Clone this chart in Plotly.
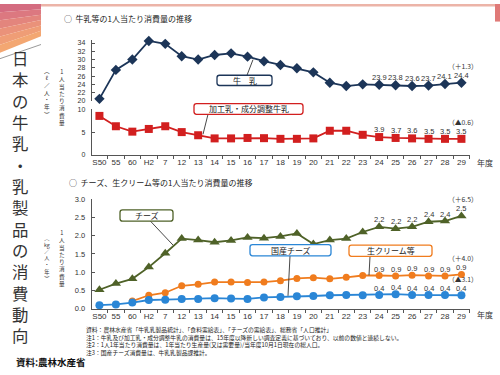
import plotly.graph_objects as go

W, H = 500, 375
def px(x): return x / W
def py(y): return 1 - y / H

# ---------------- data ----------------
categories = ["S50", "55", "60", "H2", "7", "12", "13", "14", "15", "16", "17", "18",
              "19", "20", "21", "22", "23", "24", "25", "26", "27", "28", "29"]
milk = [20.5, 27.5, 30.0, 34.5, 33.8, 30.8, 30.0, 31.1, 31.5, 30.7, 29.6, 28.7,
        27.9, 26.9, 24.4, 23.6, 24.0, 23.9, 23.8, 23.6, 23.7, 24.1, 24.4]
processed = [8.6, 6.3, 5.1, 5.7, 6.3, 5.0, 4.3, 3.6, 3.6, 3.7, 3.65, 3.5,
             3.5, 3.6, 5.3, 5.3, 4.4, 3.9, 3.7, 3.6, 3.5, 3.5, 3.5]
cheese = [0.52, 0.69, 0.82, 1.14, 1.52, 1.92, 1.88, 1.82, 1.87, 1.95, 1.93, 1.98,
          2.06, 1.77, 1.88, 1.92, 2.10, 2.24, 2.19, 2.24, 2.38, 2.40, 2.54]
cream = [None, None, 0.21, 0.37, 0.44, 0.63, 0.67, 0.73, 0.73, 0.72, 0.73, 0.77,
         0.83, 0.85, 0.82, 0.86, 0.91, 0.91, 0.90, 0.92, 0.90, 0.90, 0.94]
domestic = [0.10, 0.12, 0.17, 0.24, 0.25, 0.27, 0.27, 0.29, 0.28, 0.27, 0.31, 0.32,
            0.34, 0.35, 0.37, 0.38, 0.37, 0.38, 0.40, 0.38, 0.38, 0.38, 0.37]

milk_labels = ["23.9", "23.8", "23.6", "23.7", "24.1", "24.4"]
processed_labels = ["3.9", "3.7", "3.6", "3.5", "3.5", "3.5"]
cheese_labels = ["2.2", "2.2", "2.2", "2.4", "2.4", "2.5"]
cream_labels = ["0.9", "0.9", "0.9", "0.9", "0.9", "0.9"]
domestic_labels = ["0.4", "0.4", "0.4", "0.4", "0.4", "0.4"]
milk_change = "（＋1.3）"
processed_change = "（▲0.6）"
cheese_change = "（＋6.5）"
cream_change = "（＋4.0）"
domestic_change = "（▲3.1）"

# ---------------- style ----------------
FONT = "Noto Sans CJK JP"
NUMFONT = "Liberation Sans"
NAVY = "#1c3558"
RED = "#d21f1f"
GREEN = "#4f6228"
ORANGE = "#f07c1e"
BLUE = "#2a86d6"
AX = "#555555"
TXT = "#333333"

fig = go.Figure()
annotations = []
shapes = []

def add_series(y, labels, change, color, symbol, size, xa, ya, vshift, cshift):
    fig.add_trace(go.Scatter(
        x=categories, y=y, xaxis=xa, yaxis=ya, mode="lines+markers",
        line=dict(color=color, width=1.8),
        marker=dict(symbol=symbol, size=size, color=color),
        cliponaxis=False, showlegend=False, hoverinfo="skip",
        connectgaps=False))
    n0 = len(categories) - len(labels)
    # category axes: annotations are positioned by category serial number
    for k, (val, lab) in enumerate(zip(y[n0:], labels)):
        annotations.append(dict(text=lab, x=n0 + k, y=val, xref=xa, yref=ya,
                                showarrow=False, yshift=vshift, yanchor="middle",
                                font=dict(family=NUMFONT, size=7.5, color=TXT)))
    annotations.append(dict(text=change, x=len(categories) - 1, y=y[-1], xref=xa,
                            yref=ya, showarrow=False, yshift=cshift, xshift=1.5,
                            yanchor="middle",
                            font=dict(family=FONT, size=6.8, color=TXT)))

add_series(milk, milk_labels, milk_change, NAVY, "diamond", 8, "x", "y2", 7.5, 17)
add_series(processed, processed_labels, processed_change, RED, "square", 8, "x", "y", 7.5, 17)
add_series(cheese, cheese_labels, cheese_change, GREEN, "triangle-up", 9, "x2", "y3", 7, 16.5)
add_series(cream, cream_labels, cream_change, ORANGE, "circle", 7, "x2", "y3", 6.5, 16)
add_series(domestic, domestic_labels, domestic_change, BLUE, "circle", 8, "x2", "y3", 6.5, 16)

xdom = [px(91.7), px(470)]
xcommon = dict(type="category", categoryorder="array", categoryarray=categories,
               range=[-0.47, 22.52], domain=xdom, showline=True, linecolor=AX,
               linewidth=1, ticks="outside", ticklen=3, tickcolor=AX,
               tickson="boundaries", showgrid=False, zeroline=False, tickangle=0,
               tickfont=dict(family=NUMFONT, size=8, color=TXT), fixedrange=True)
ycommon = dict(showline=True, linecolor=AX, linewidth=1, ticks="inside", ticklen=3,
               tickcolor=AX, showgrid=False, zeroline=False,
               tickfont=dict(family=NUMFONT, size=7.5, color=TXT), ticklabelstandoff=4,
               fixedrange=True)

fig.update_layout(
    width=W, height=H, margin=dict(l=0, r=0, t=0, b=0),
    paper_bgcolor="white", plot_bgcolor="rgba(0,0,0,0)",
    xaxis=dict(**xcommon, anchor="y"),
    yaxis=dict(**ycommon, domain=[py(154.3), py(107.5)], range=[0, 10.15],
               tickvals=[0, 5, 10], anchor="x"),
    yaxis2=dict(**ycommon, domain=[py(99.3), py(37)], range=[20, 34.7],
                tickvals=[20, 22, 24, 26, 28, 30, 32, 34], anchor="x"),
    xaxis2=dict(**xcommon, anchor="y3"),
    yaxis3=dict(**ycommon, domain=[py(312.3), py(199.5)], range=[0, 3.01],
                tickvals=[0, 0.5, 1.0, 1.5, 2.0, 2.5, 3.0], tickformat=".1f",
                anchor="x2"),
)
fig.update_layout(yaxis2_tickfont_size=7, yaxis_tickfont_size=7)

# --- decorative background (top-left gradient, top strip, gray line) ---
grad = ["#d46c80", "#dc7880", "#e3857d", "#ea927a", "#ef9d76", "#f3a772"]
n = len(grad)
for i, c in enumerate(grad):
    t0, t1 = i / n, (i + 1) / n
    yl0, yl1 = 50 * t0, 50 * t1
    yr0, yr1 = 33 * t0, 33 * t1
    path = (f"M {px(0)},{py(yl0)} L {px(41)},{py(yr0)} L {px(41)},{py(yr1)} "
            f"L {px(0)},{py(yl1)} Z")
    shapes.append(dict(type="path", path=path, xref="paper", yref="paper",
                       fillcolor=c, line=dict(width=0), layer="below"))
shapes.append(dict(type="rect", xref="paper", yref="paper", x0=px(41), x1=1,
                   y0=py(2.5), y1=1, fillcolor="#ecb4a8", line=dict(width=0),
                   layer="below"))
shapes.append(dict(type="rect", xref="paper", yref="paper", x0=px(495), x1=1,
                   y0=py(18), y1=1, fillcolor="#e07a78", line=dict(width=0),
                   layer="below"))
shapes.append(dict(type="line", xref="paper", yref="paper", x0=px(0), y0=py(56),
                   x1=px(41), y1=py(41.5), line=dict(color="#9a9a9a", width=1)))

# --- callout boxes ---
def rrect(x0, y0, x1, y1, color, r=2.5):
    rx, ry = r / W, r / H
    X0, X1 = px(x0), px(x1)
    Y0, Y1 = py(y0), py(y1)
    path = (f"M {X0+rx},{Y0} L {X1-rx},{Y0} Q {X1},{Y0} {X1},{Y0-ry} "
            f"L {X1},{Y1+ry} Q {X1},{Y1} {X1-rx},{Y1} L {X0+rx},{Y1} "
            f"Q {X0},{Y1} {X0},{Y1+ry} L {X0},{Y0-ry} Q {X0},{Y0} {X0+rx},{Y0} Z")
    shapes.append(dict(type="path", path=path, xref="paper", yref="paper",
                       fillcolor="white", line=dict(color=color, width=1.3),
                       layer="above"))

def leader(x0, y0, x1, y1):
    shapes.append(dict(type="line", xref="paper", yref="paper", x0=px(x0),
                       y0=py(y0), x1=px(x1), y1=py(y1),
                       line=dict(color="#333333", width=0.9), layer="above"))

def box(text, x0, y0, x1, y1, color):
    rrect(x0, y0, x1, y1, color)
    annotations.append(dict(text=text, x=px((x0 + x1) / 2), y=py((y0 + y1) / 2),
                            xref="paper", yref="paper", showarrow=False,
                            font=dict(family=FONT, size=8, color="#222222"),
                            xanchor="center", yanchor="middle"))

leader(247, 73, 253, 57)
box("牛　乳", 217, 73, 272, 83.5, NAVY)
leader(208, 113, 203, 133.5)
box("加工乳・成分調整牛乳", 194, 102, 303, 113, RED)
leader(150, 222, 173, 247)
box("チーズ", 120, 211, 173, 222.5, GREEN)
leader(290, 258, 288, 299)
box("国産チーズ", 250, 246.5, 331, 258, BLUE)
leader(370, 258.5, 369, 278)
box("生クリーム等", 349, 247, 432, 258.5, ORANGE)

# --- texts ---
def text(t, x, y, size, anchor="left", color=TXT, weight=None):
    f = dict(family=FONT, size=size, color=color)
    if weight:
        f["weight"] = weight
    annotations.append(dict(text=t, x=px(x), y=py(y), xref="paper", yref="paper",
                            showarrow=False, xanchor=anchor, yanchor="middle",
                            font=f))

def vtext(chars, x, ytop, size, color=TXT):
    annotations.append(dict(text="<br>".join(chars), x=px(x), y=py(ytop),
                            xref="paper", yref="paper", showarrow=False,
                            xanchor="center", yanchor="top", align="center",
                            font=dict(family=FONT, size=size, color=color)))

text("○  牛乳等の1人当たり消費量の推移", 62, 14.5, 8, color="#222222")
text("○  チーズ、生クリーム等の1人当たり消費量の推移", 67, 183, 8, color="#222222")
text("年度", 485, 162, 8, anchor="center")
text("年度", 485, 318.5, 8, anchor="center")

vtext(list("1人当たり消費量"), 62, 64, 5.6)
vtext(["︵", "ℓ", "／", "人", "・", "年", "︶"], 47, 62, 5.6)
vtext(list("1人当たり消費量"), 62, 228, 5.6)
vtext(["︵", "kg", "／", "人", "・", "年", "︶"], 47, 234, 5.2)

# big vertical slide title
vtext(list("日本の牛乳・乳製品の消費動向"), 20, 41, 16.4, color="#333333")

notes = [
    "資料：農林水産省「牛乳乳製品統計」、「食料需給表」、「チーズの需給表」、総務省「人口推計」",
    "注1：牛乳及び加工乳・成分調整牛乳の消費量は、15年度以降新しい調査定義に基づいており、以前の数値と連続しない。",
    "注2：1人1年当たり消費量は、1年当たり生産量(又は需要量)/当年度10月1日現在の総人口。",
    "注3：国産チーズ消費量は、牛乳乳製品課推計。",
]
annotations.append(dict(text="<br>".join(notes), x=px(84), y=py(327), xref="paper",
                        yref="paper", showarrow=False, xanchor="left", yanchor="top",
                        align="left", font=dict(family=FONT, size=5.8, color="#222222")))

text("資料:農林水産省", 14, 367, 9.5, color="#111111", weight="bold")

fig.update_layout(shapes=shapes, annotations=annotations)
fig.write_html("out.html", post_script="document.body.style.margin='0';",
               config={"displayModeBar": False})
